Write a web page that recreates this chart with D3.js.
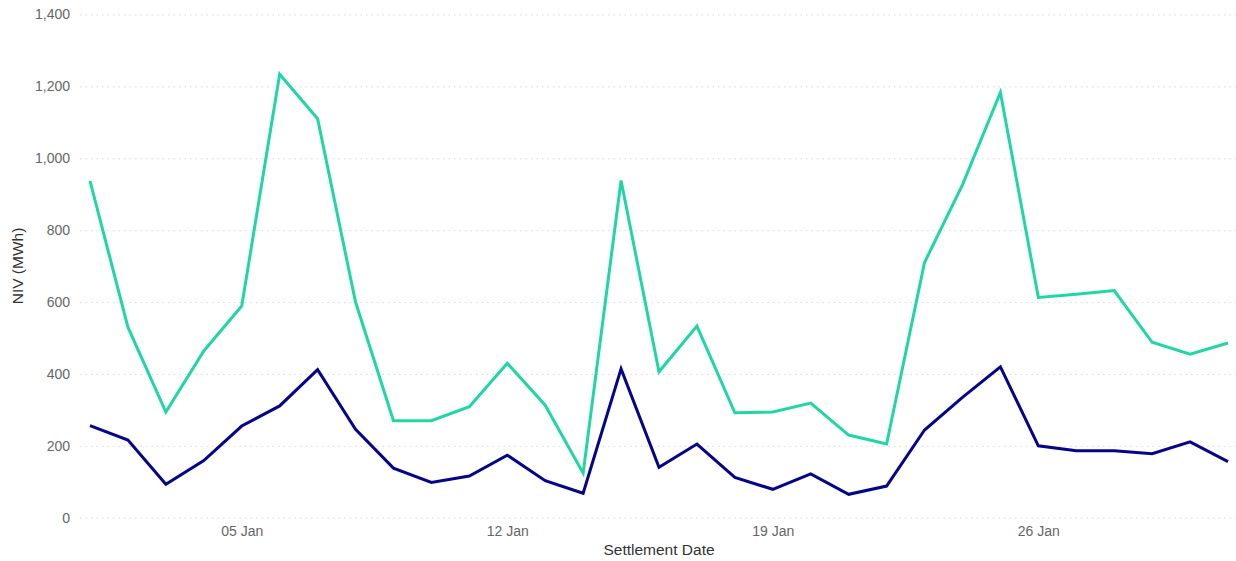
<!DOCTYPE html>
<meta charset="utf-8">
<style>
  body { margin: 0; background: #fff; }
  text { font-family: "Liberation Sans", Arial, sans-serif; }
  .grid line { stroke: #d9d9d9; stroke-dasharray: 1.5,4; }
  .tick text { fill: #666; font-size: 14px; }
  .title { fill: #333; font-size: 15.5px; }
</style>
<body>
<svg width="1236" height="561"></svg>
<script src="https://d3js.org/d3.v7.min.js"></script>
<script>

// settlement dates, Jan 1..31
var days = d3.range(1, 32).map(d => new Date(2024, 0, d));

// NIV values (MWh)
var nivUpper = [937, 530, 294, 464, 589, 1234, 1110, 600, 270, 270,
                309, 430, 313, 124, 938, 406, 533, 292, 294, 319,
                230, 205, 710, 926, 1183, 613, 622, 632, 488, 455, 486];
var nivLower = [256, 216, 93, 159, 255, 311, 412, 246, 138, 98,
                116, 174, 103, 68, 414, 140, 205, 112, 79, 122,
                65, 88, 244, 335, 420, 200, 186, 186, 178, 211, 156];

var yTicks = [0, 200, 400, 600, 800, 1000, 1200, 1400];
var xTicks = [new Date(2024, 0, 5), new Date(2024, 0, 12), new Date(2024, 0, 19), new Date(2024, 0, 26)];

var svg = d3.select("svg");

var x = d3.scaleTime().domain([days[0], days[days.length - 1]]).range([90, 1228]);
var y = d3.scaleLinear().domain([0, 1400]).range([517.7, 14.5]);

// gridlines + y labels
var gy = svg.append("g")
    .attr("class", "grid")
    .attr("transform", "translate(80,0)")
    .call(d3.axisLeft(y).tickValues(yTicks).tickSize(-1156).tickPadding(10).tickFormat(d3.format(",")));
gy.select(".domain").remove();

// x axis labels
var gx = svg.append("g")
    .attr("transform", "translate(0,518)")
    .call(d3.axisBottom(x).tickValues(xTicks).tickSize(0).tickPadding(8).tickFormat(d3.timeFormat("%d %b")));
gx.select(".domain").remove();

// lines
var line = d3.line()
    .x((d, i) => x(days[i]))
    .y(d => y(d));

svg.append("path")
    .datum(nivUpper)
    .attr("fill", "none")
    .attr("stroke", "#20d6a5")
    .attr("stroke-width", 3)
    .attr("d", line);

svg.append("path")
    .datum(nivLower)
    .attr("fill", "none")
    .attr("stroke", "#05058a")
    .attr("stroke-width", 3)
    .attr("d", line);

// axis titles
svg.append("text")
    .attr("class", "title")
    .attr("x", 659)
    .attr("y", 555)
    .attr("text-anchor", "middle")
    .text("Settlement Date");

svg.append("text")
    .attr("class", "title")
    .attr("transform", "translate(23,266) rotate(-90)")
    .attr("text-anchor", "middle")
    .text("NIV (MWh)");

</script>
</body>
